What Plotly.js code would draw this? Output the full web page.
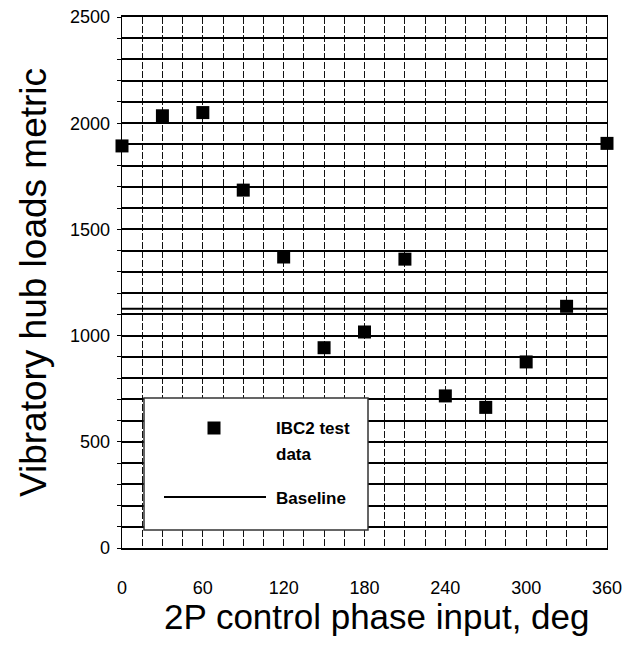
<!DOCTYPE html>
<html>
<head>
<meta charset="utf-8">
<script src="https://cdn.plot.ly/plotly-3.0.1.min.js"></script>
<style>html,body{margin:0;padding:0;background:#fff;}#chart{width:627px;height:651px;}</style>
</head>
<body>
<div id="chart"></div>
<script>
// Data
const phaseDeg = [0, 30, 60, 90, 120, 150, 180, 210, 240, 270, 300, 330, 360];
const hubLoads = [1893, 2035, 2050, 1685, 1370, 943, 1017, 1360, 716, 662, 876, 1138, 1905];
const baselineX = [0, 360];
const baselineY = [1127, 1127];
const xLabelVals = [0, 60, 120, 180, 240, 300, 360];
const yLabelVals = [0, 500, 1000, 1500, 2000, 2500];
const xGridStep = 15;
const yGridStep = 100;
const seriesNames = ["IBC2 test data", "Baseline"];

const FONT = "Liberation Sans, Arial, Helvetica, sans-serif";

// grid positions with labels only at labelled values
function gridTicks(max, step, labels) {
  const vals = [], text = [];
  for (let v = 0; v <= max; v += step) {
    vals.push(v);
    text.push(labels.includes(v) ? String(v) : "");
  }
  return {vals, text};
}
const xt = gridTicks(360, xGridStep, xLabelVals);
const yt = gridTicks(2500, yGridStep, yLabelVals);

// plot area in px: x 122..607, y 17..548
const L = 122, R = 607, T = 17, B = 548;
const px = v => (v - L) / (R - L);
const py = v => (B - v) / (B - T);

const traces = [
  {
    x: baselineX, y: baselineY, mode: "lines", name: seriesNames[1],
    line: {color: "#000", width: 2}, showlegend: false, hoverinfo: "y"
  },
  {
    x: phaseDeg, y: hubLoads, mode: "markers", name: seriesNames[0],
    marker: {symbol: "square", size: 13, color: "#000"},
    cliponaxis: false, showlegend: false
  }
];

const layout = {
  width: 627, height: 651,
  margin: {l: L, r: 627 - R, t: T, b: 651 - B, pad: 0},
  paper_bgcolor: "#fff", plot_bgcolor: "#fff",
  font: {family: FONT, color: "#000"},
  showlegend: false,
  xaxis: {
    range: [0, 360], tickmode: "array", tickvals: xt.vals, ticktext: xt.text, ticks: "",
    showgrid: true, gridcolor: "#111", gridwidth: 1, griddash: "7px,2px",
    zeroline: false, showline: true, linecolor: "#000", linewidth: 2, mirror: true,
    tickfont: {family: FONT, size: 18, color: "#000"},
    ticklabelstandoff: 22
  },
  yaxis: {
    range: [0, 2500], tickmode: "array", tickvals: yt.vals, ticktext: yt.text,
    ticks: "outside", ticklen: 4, tickcolor: "#000", tickwidth: 1,
    showgrid: true, gridcolor: "#000", gridwidth: 2,
    zeroline: false, showline: true, linecolor: "#000", linewidth: 1.3, mirror: true,
    tickfont: {family: FONT, size: 18, color: "#000"},
    ticklabelstandoff: 3,
    title: {text: "Vibratory hub loads metric", font: {family: FONT, size: 37, color: "#000"}, standoff: 12}
  },
  shapes: [
    {type: "rect", xref: "paper", yref: "paper", x0: px(144), x1: px(368), y0: py(530), y1: py(398),
     line: {color: "#333", width: 1.5}, fillcolor: "#fff", layer: "above"},
    {type: "rect", xref: "paper", yref: "paper", x0: px(207.5), x1: px(220.5), y0: py(434.5), y1: py(421.5),
     line: {width: 0}, fillcolor: "#000", layer: "above"},
    {type: "line", xref: "paper", yref: "paper", x0: px(164), x1: px(266), y0: py(497), y1: py(497),
     line: {color: "#000", width: 2}, layer: "above"}
  ],
  annotations: [
    {text: "IBC2 test", xref: "paper", yref: "paper", x: px(274), y: py(428), xanchor: "left", yanchor: "middle",
     showarrow: false, font: {family: FONT, size: 17, color: "#000", weight: "bold"}},
    {text: "data", xref: "paper", yref: "paper", x: px(274), y: py(454), xanchor: "left", yanchor: "middle",
     showarrow: false, font: {family: FONT, size: 17, color: "#000", weight: "bold"}},
    {text: "Baseline", xref: "paper", yref: "paper", x: px(274), y: py(498), xanchor: "left", yanchor: "middle",
     showarrow: false, font: {family: FONT, size: 17, color: "#000", weight: "bold"}},
    {text: "2P control phase input, deg", xref: "paper", yref: "paper", x: px(377), y: py(616),
     xanchor: "center", yanchor: "middle", showarrow: false,
     font: {family: FONT, size: 35, color: "#000"}}
  ]
};

Plotly.newPlot("chart", traces, layout, {staticPlot: true, displayModeBar: false});
</script>
</body>
</html>
